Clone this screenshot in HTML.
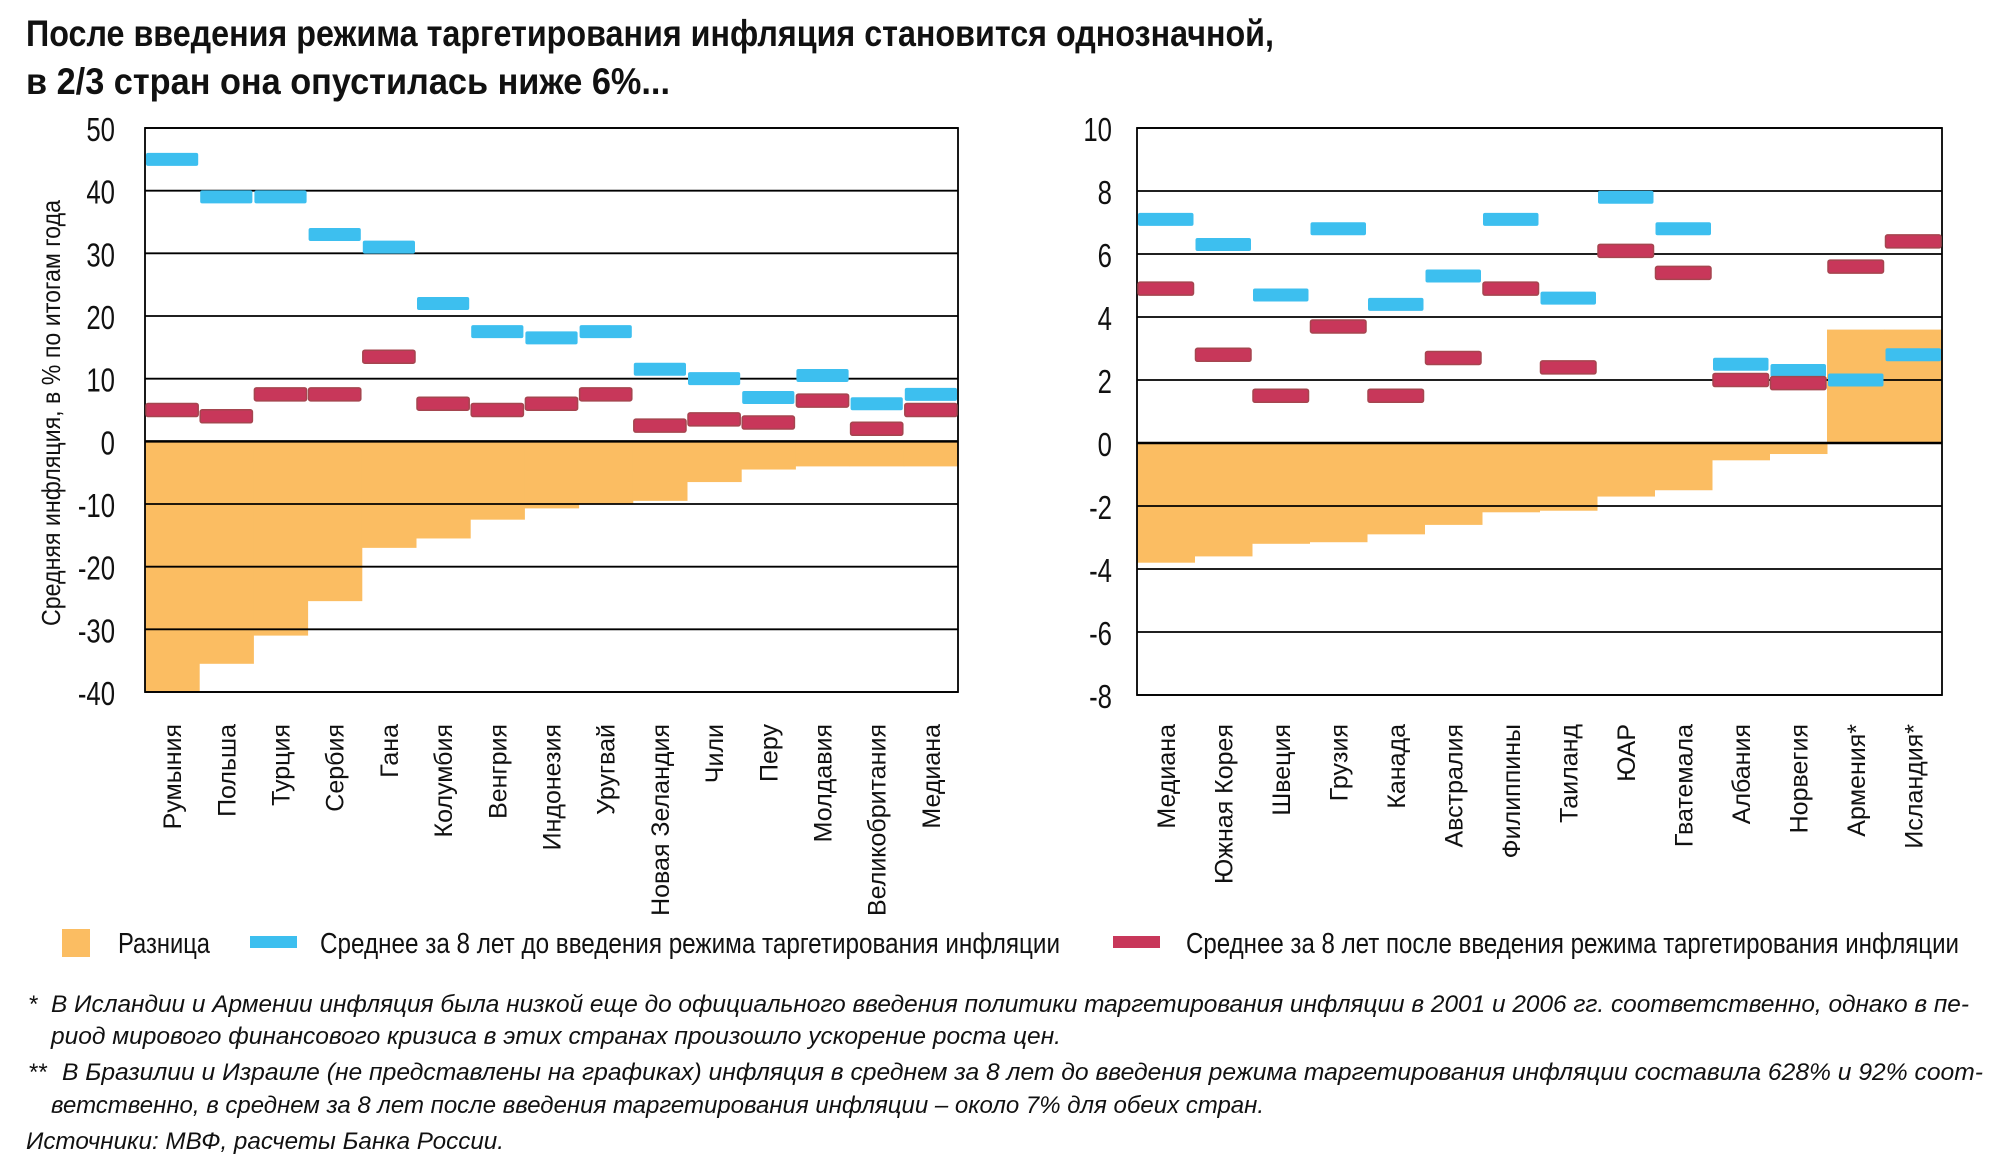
<!DOCTYPE html>
<html><head><meta charset="utf-8"><style>
html,body{margin:0;padding:0;background:#fff}
svg{display:block}
text{font-family:"Liberation Sans Narrow","Liberation Sans","Noto Sans CJK SC",sans-serif}
</style></head><body>
<svg id="chart" width="2000" height="1172" viewBox="0 0 2000 1172" xmlns="http://www.w3.org/2000/svg">
<g font-weight="bold" font-size="37" fill="#111">
<text x="26" y="46" textLength="1248" lengthAdjust="spacingAndGlyphs">После введения режима таргетирования инфляция становится однозначной,</text>
<text x="26" y="94" textLength="644" lengthAdjust="spacingAndGlyphs">в 2/3 стран она опустилась ниже 6%...</text>
</g>
<g id="left"></g>
<g id="right"></g>
<text transform="translate(60,413) rotate(-90)" text-anchor="middle" font-size="26" textLength="426" lengthAdjust="spacingAndGlyphs" fill="#111">Средняя инфляция, в % по итогам года</text>
<g font-size="29" fill="#111">
<g><rect x="62" y="929" width="28" height="28" fill="#fbbd62"/><text x="118" y="953" textLength="92" lengthAdjust="spacingAndGlyphs">Разница</text></g>
<g><rect x="250" y="936" width="47" height="12" fill="#3dbfef"/><text x="320" y="953" textLength="740" lengthAdjust="spacingAndGlyphs">Среднее за 8 лет до введения режима таргетирования инфляции</text></g>
<g><rect x="1113" y="936" width="47" height="12" fill="#c8375a"/><text x="1186" y="953" textLength="773" lengthAdjust="spacingAndGlyphs">Среднее за 8 лет после введения режима таргетирования инфляции</text></g>
</g>
<g font-size="24" font-style="italic" fill="#111">
<text x="28" y="1012">*</text>
<text x="51" y="1012" textLength="1918" lengthAdjust="spacingAndGlyphs">В Исландии и Армении инфляция была низкой еще до официального введения политики таргетирования инфляции в 2001 и 2006 гг. соответственно, однако в пе-</text>
<text x="51" y="1044" textLength="1010" lengthAdjust="spacingAndGlyphs">риод мирового финансового кризиса в этих странах произошло ускорение роста цен.</text>
<text x="28" y="1080">**</text>
<text x="62" y="1080" textLength="1921" lengthAdjust="spacingAndGlyphs">В Бразилии и Израиле (не представлены на графиках) инфляция в среднем за 8 лет до введения режима таргетирования инфляции составила 628% и 92% соот-</text>
<text x="51" y="1113" textLength="1213" lengthAdjust="spacingAndGlyphs">ветственно, в среднем за 8 лет после введения таргетирования инфляции – около 7% для обеих стран.</text>
<text x="26" y="1149" textLength="478" lengthAdjust="spacingAndGlyphs">Источники: МВФ, расчеты Банка России.</text>
</g>
</svg>
<script>
const leftCategories = ["Румыния","Польша","Турция","Сербия","Гана","Колумбия","Венгрия","Индонезия","Уругвай","Новая Зеландия","Чили","Перу","Молдавия","Великобритания","Медиана"];
const leftBefore = [45,39,39,33,31,22,17.5,16.5,17.5,11.5,10,7,10.5,6,7.5];
const leftAfter = [5,4,7.5,7.5,13.5,6,5,6,7.5,2.5,3.5,3,6.5,2,5];
const leftDiff = [-40,-35.5,-31,-25.5,-17,-15.5,-12.5,-10.7,-10,-9.5,-6.5,-4.5,-4,-4,-4];
const leftTicks = [50,40,30,20,10,0,-10,-20,-30,-40];

const rightCategories = ["Медиана","Южная Корея","Швеция","Грузия","Канада","Австралия","Филиппины","Таиланд","ЮАР","Гватемала","Албания","Норвегия","Армения*","Исландия*"];
const rightBefore = [7.1,6.3,4.7,6.8,4.4,5.3,7.1,4.6,7.8,6.8,2.5,2.3,2.0,2.8];
const rightAfter = [4.9,2.8,1.5,3.7,1.5,2.7,4.9,2.4,6.1,5.4,2.0,1.9,5.6,6.4];
const rightDiff = [-3.8,-3.6,-3.2,-3.15,-2.9,-2.6,-2.2,-2.15,-1.7,-1.5,-0.55,-0.35,3.6,3.6];
const rightTicks = [10,8,6,4,2,0,-2,-4,-6,-8];

const NS = "http://www.w3.org/2000/svg";
function mk(tag, attrs, parent){const e=document.createElementNS(NS,tag);for(const k in attrs)e.setAttribute(k,attrs[k]);parent.appendChild(e);return e;}

function drawChart(g, cats, before, after, diff, ticks, box){
  const min=ticks[ticks.length-1], max=ticks[0];
  const y=v=>box.top+(max-v)/(max-min)*(box.bottom-box.top);
  const bw=(box.right-box.left)/cats.length;
  const x=i=>box.left+i*bw;
  diff.forEach((d,i)=>{
    const r=mk('rect',{x:x(i),y:Math.min(y(0),y(d)),width:bw+0.5,height:Math.abs(y(d)-y(0)),fill:'#fbbd62'},g);
    
    
  });
  ticks.forEach((t,k)=>{
    const l=mk('line',{x1:box.left,x2:box.right,y1:y(t),y2:y(t),stroke:'#000','stroke-width':t===0?2.5:1.8},g);
    
    
    const tx=mk('text',{x:box.tickX,y:y(t)+13,'text-anchor':'end','font-size':33,fill:'#111',transform:`translate(${box.tickX},0) scale(0.78,1) translate(${-box.tickX},0)`},g);
    tx.textContent=t;
    
    
  });
  const f=mk('rect',{x:box.left,y:box.top,width:box.right-box.left,height:box.bottom-box.top,fill:'none',stroke:'#000','stroke-width':1.8},g);
  
  
  const h=13;
  before.forEach((v,i)=>{
    const r=mk('rect',{x:x(i)+1,y:y(v)-h/2,width:bw-2,height:h,rx:2,fill:'#3dbfef'},g);
    
    
  });
  after.forEach((v,i)=>{
    const r=mk('rect',{x:x(i)+1,y:y(v)-h/2,width:bw-2,height:h,rx:2,fill:'#c8375a',stroke:'#a5454f','stroke-width':1.5},g);
    
    
  });
  cats.forEach((c,i)=>{
    const cx=x(i)+bw/2+9;
    const t=mk('text',{transform:`translate(${cx},724) rotate(-90)`,'text-anchor':'end','font-size':25,fill:'#111'},g);
    t.textContent=c;
    
    
  });
}
drawChart(document.getElementById('left'),leftCategories,leftBefore,leftAfter,leftDiff,leftTicks,{left:145,right:958,top:128,bottom:692,tickX:115});
drawChart(document.getElementById('right'),rightCategories,rightBefore,rightAfter,rightDiff,rightTicks,{left:1137,right:1942,top:128,bottom:695,tickX:1112});
</script>
</body></html>
